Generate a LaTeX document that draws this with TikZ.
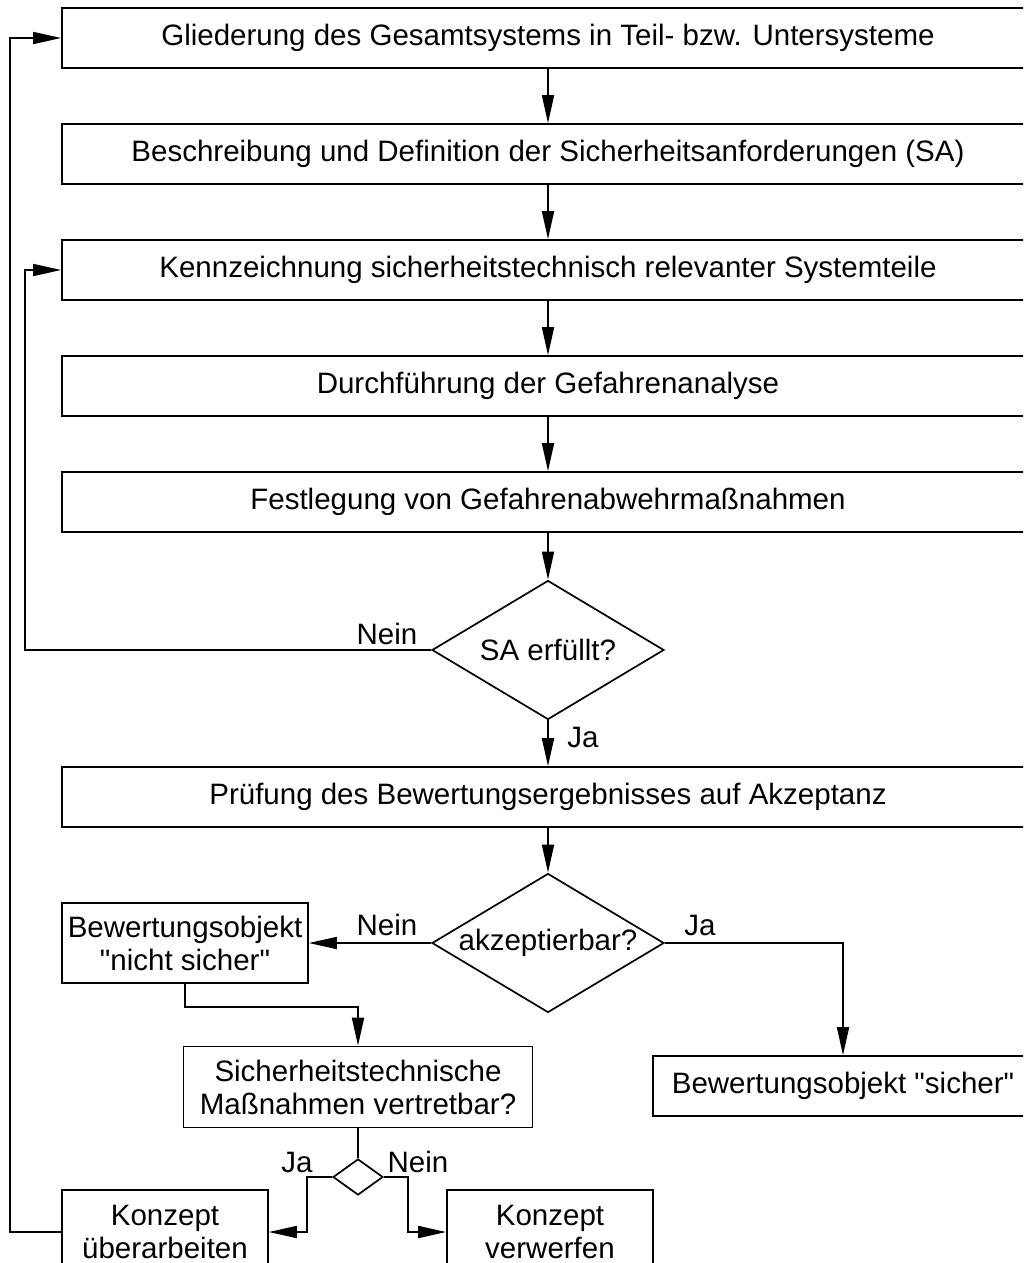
\documentclass[tikz,border=0pt]{standalone}
\usepackage{fontspec}
\setmainfont{Liberation Sans}[Ligatures=TeXOff]
\usetikzlibrary{arrows.meta,shapes.geometric}
\begin{document}
\begin{tikzpicture}[x=1pt,y=-1pt,
  font=\fontsize{29.5}{33}\selectfont,
  line width=1.7pt,
  box/.style={draw, rectangle, inner sep=0pt, align=center},
  wide/.style={box, minimum width=972pt, minimum height=60pt},
  decision/.style={draw, diamond, inner sep=0pt, minimum width=232pt, minimum height=139pt, label={center:#1}},
  flow/.style={-{Triangle[length=28pt,width=12pt]}},
  lbl/.style={inner sep=0pt}
]
\useasboundingbox (0,0) rectangle (1023,1263);
\clip (0,0) rectangle (1023,1263);

% main chain
\node[wide] (b1) at (548,38)  {Gliederung des Gesamtsystems in Teil- bzw. Untersysteme};
\node[wide] (b2) at (548,154) {Beschreibung und Definition der Sicherheitsanforderungen (SA)};
\node[wide] (b3) at (548,270) {Kennzeichnung sicherheitstechnisch relevanter Systemteile};
\node[wide] (b4) at (548,386) {Durchführung der Gefahrenanalyse};
\node[wide] (b5) at (548,502) {Festlegung von Gefahrenabwehrmaßnahmen};
\node[decision={SA erfüllt?}] (d1) at (548,650) {};
\node[wide] (b6) at (548,797) {Prüfung des Bewertungsergebnisses auf Akzeptanz};
\node[decision={akzeptierbar?}] (d2) at (548,943) {};

% outcome branch
\node[box, minimum width=246pt, minimum height=80pt] (ns) at (185,943) {Bewertungsobjekt\\"nicht sicher"};
\node[box, minimum width=380pt, minimum height=60pt] (si) at (843,1086) {Bewertungsobjekt "sicher"};
\node[box, minimum width=349pt, minimum height=81pt] (mv) at (358,1087) {Sicherheitstechnische\\Maßnahmen vertretbar?};
\node[draw, diamond, inner sep=0pt, minimum width=50pt, minimum height=36pt] (d3) at (358,1177) {};
\node[box, minimum width=206pt, minimum height=84pt] (ku) at (165,1232) {Konzept\\überarbeiten};
\node[box, minimum width=206pt, minimum height=84pt] (kv) at (550,1232) {Konzept\\verwerfen};

% connectors
\draw[flow] (b1) -- (b2);
\draw[flow] (b2) -- (b3);
\draw[flow] (b3) -- (b4);
\draw[flow] (b4) -- (b5);
\draw[flow] (b5) -- (d1);
\draw[flow] (d1) -- (b6);
\draw[flow] (b6) -- (d2);
\draw[flow] (d1.west) -- (25,650) |- (b3.west);
\draw[flow] (d2.west) -- (ns.east);
\draw[flow] (d2.east) -| (si.north);
\draw[flow] (ns.south) |- (358,1007) -- (mv.north);
\draw (mv.south) -- (d3.north);
\draw[flow] (d3.west) -- (307,1177) |- (ku.east);
\draw[flow] (d3.east) -- (408,1177) |- (kv.west);
\draw[flow] (ku.west) -- (10,1232) |- (b1.west);

% branch labels
\node[lbl] (n1) at (387,634) {Nein};
\node[lbl] (j1) at (583,737) {Ja};
\node[lbl] (n2) at (387,925) {Nein};
\node[lbl] (j2) at (700,925) {Ja};
\node[lbl] (j3) at (297,1162) {Ja};
\node[lbl] (n3) at (418,1162) {Nein};
\end{tikzpicture}
\end{document}
